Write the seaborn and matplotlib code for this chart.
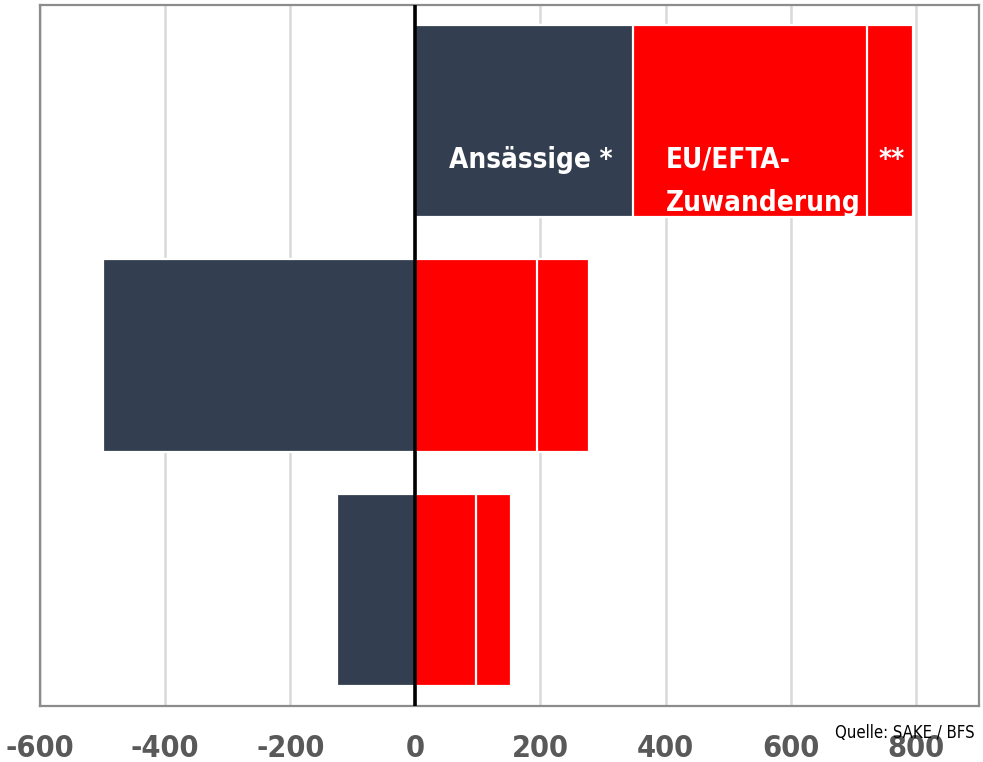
import matplotlib
matplotlib.use("Agg")
import matplotlib.pyplot as plt
import seaborn as sns
import pandas as pd
import numpy as np

# Data
categories = ["Gruppe 1", "Gruppe 2", "Gruppe 3"]
ansaessige = [348, -500, -125]
eu_efta = [374, 195, 97]
sonstige = [73, 82, 56]
xticks = [-600, -400, -200, 0, 200, 400, 600, 800]

navy = "#333F50"
red = "#FF0000"

sns.set_theme(style="white")
FONT = ["DejaVu Sans"]
plt.rcParams["font.family"] = FONT
plt.rcParams["font.stretch"] = "condensed"

base = np.maximum(np.array(ansaessige), 0)
cum_eu = base + np.array(eu_efta)
cum_all = cum_eu + np.array(sonstige)

df = pd.DataFrame({
    "Kategorie": categories,
    "Ansässige": ansaessige,
    "cum_eu": cum_eu,
    "cum_all": cum_all,
})

fig = plt.figure(figsize=(9.83, 7.62), dpi=100)
ax = fig.add_axes([40/983, 1-706/762, (979-40)/983, (706-5)/762])

ax.set_axisbelow(True)
for x in xticks:
    ax.axvline(x, color="#D9D9D9", lw=1.8, zorder=0)

common = dict(orient="h", width=0.82, edgecolor="white", linewidth=1.6, ax=ax, zorder=2)
sns.barplot(data=df, y="Kategorie", x="cum_all", color=red, saturation=1, **common)
sns.barplot(data=df, y="Kategorie", x="cum_eu", color=red, saturation=1, **common)
sns.barplot(data=df, y="Kategorie", x="Ansässige", color=navy, saturation=1, **common)

ax.axvline(0, color="black", lw=2.6, zorder=5)

ax.set_xlim(-600, 901)
ax.set_ylim(2.495, -0.495)
ax.set_xticks(xticks)
ax.set_xticklabels([str(v) for v in xticks])
ax.set_yticks([])
ax.set_xlabel("")
ax.set_ylabel("")
ax.tick_params(axis="x", length=0, pad=20, labelsize=22, labelcolor="#595959")
for lbl in ax.get_xticklabels():
    lbl.set_fontweight("bold")
    lbl.set_fontstretch("condensed")

for s in ax.spines.values():
    s.set_visible(True)
    s.set_color("#8C8C8C")
    s.set_linewidth(1.6)

tk = dict(color="white", fontsize=20, fontweight="bold", fontstretch="condensed",
          va="center", zorder=6)
ax.text(315, 0.166, "Ansässige *", ha="right", **tk)
ax.text(400, 0.166, "EU/EFTA-", ha="left", **tk)
ax.text(400, 0.35, "Zuwanderung", ha="left", **tk)
ax.text(741, 0.166, "**", ha="left", **tk)

fig.text(975/983, 1-733/762, "Quelle: SAKE / BFS", fontsize=12, color="black",
         ha="right", va="center", fontstretch="condensed")

fig.savefig("out.png", dpi=100)
